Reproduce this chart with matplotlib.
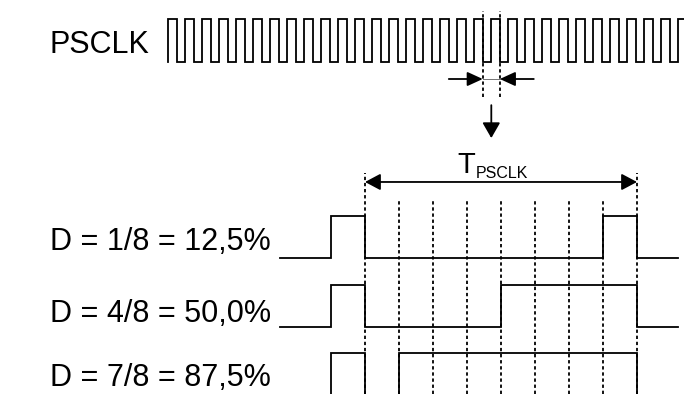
import matplotlib.pyplot as plt
import numpy as np

plt.rcParams['font.family'] = ['Liberation Sans', 'DejaVu Sans']
plt.rcParams['lines.scale_dashes'] = False

# --- data ---------------------------------------------------------------
clk_label = 'PSCLK'
clk_cycles = 31              # rising edges shown in the PSCLK row
clk_marked = [18.5, 19.5]    # falling edges that bound one PSCLK period

row_labels = ['D = 1/8 = 12,5%', 'D = 4/8 = 50,0%', 'D = 7/8 = 87,5%']
high_slots = [1, 4, 7]       # high slots out of n_slots
n_slots = 8
prev_high = 1                # previous period still high for one slot
t_start, t_end = -2.5, 9.2   # visible span of the PWM rows (slots)

W, H = 684, 394
LW = 1.3
DOT = (0, (2.4, 2.0))
fig = plt.figure(figsize=(W / 100, H / 100), dpi=100)


def px_axes(x0, unit_x, y0, unit_y):
    """full figure axes, origin at pixel (x0, y0 from top)"""
    ax = fig.add_axes([0, 0, 1, 1])
    ax.set_xlim(-x0 / unit_x, (W - x0) / unit_x)
    yb = H - y0
    ax.set_ylim(-yb / unit_y, (H - yb) / unit_y)
    ax.axis('off')
    ax.patch.set_alpha(0)
    return ax


def arrow(ax, start, end, hl, hw, style='-|>'):
    ax.annotate('', xy=end, xytext=start,
                arrowprops=dict(arrowstyle=f'{style},head_length={hl},head_width={hw}',
                                mutation_scale=10, color='k', lw=LW,
                                shrinkA=0, shrinkB=0))


# --- PSCLK --------------------------------------------------------------
ax_c = px_axes(168.3, 17, 61.7, 42.2)
edges = np.arange(0, clk_cycles, 0.5)
ax_c.plot(np.repeat(edges, 2), np.tile([0, 1, 1, 0], clk_cycles),
          color='k', lw=LW, solid_joinstyle='miter')
ax_c.vlines(clk_marked, -0.83, 1.2, color='k', lw=LW, linestyles=DOT)
ax_c.plot(clk_marked, [-0.41, -0.41], color='0.45', lw=0.7)
arrow(ax_c, (clk_marked[0] - 2, -0.41), (clk_marked[0], -0.41), 0.94, 0.43)
arrow(ax_c, (clk_marked[1] + 2, -0.41), (clk_marked[1], -0.41), 0.94, 0.43)
mid = sum(clk_marked) / 2
arrow(ax_c, (mid, -1.03), (mid, -1.81), 0.94, 0.54)
fig.text(50 / W, 1 - 53 / H, clk_label, fontsize=22, va='baseline')

# --- PWM rows -----------------------------------------------------------
ax_s = px_axes(365, 34, 258, 42)
pitch = 68.6 / 42
for k, (lab, hi) in enumerate(zip(row_labels, high_slots)):
    base = -k * pitch
    xs = [t_start, -prev_high, -prev_high, 0, 0, n_slots - hi, n_slots - hi,
          n_slots, n_slots, t_end]
    ys = np.array([0, 0, 1, 1, 0, 0, 1, 1, 0, 0]) + base
    ax_s.plot(xs, ys, color='k', lw=LW, solid_joinstyle='miter')

label_base = [250, 321.7, 386.5]
for lab, yb in zip(row_labels, label_base):
    fig.text(50 / W, 1 - yb / H, lab, fontsize=22, va='baseline')

ybot = ax_s.get_ylim()[0]
for t in range(n_slots + 1):
    top = 2.02 if t in (0, n_slots) else 1.405
    ax_s.vlines(t, ybot, top, color='k', lw=LW, linestyles=DOT)

arrow(ax_s, (0, 1.81), (n_slots, 1.81), 0.94, 0.5, style='<|-|>')
fig.text(457 / W, 1 - 173.3 / H, 'T', fontsize=21, va='baseline')
fig.text(475.5 / W, 1 - 178.3 / H, 'PSCLK', fontsize=11.5, va='baseline')

fig.savefig('out.png', dpi=100)
